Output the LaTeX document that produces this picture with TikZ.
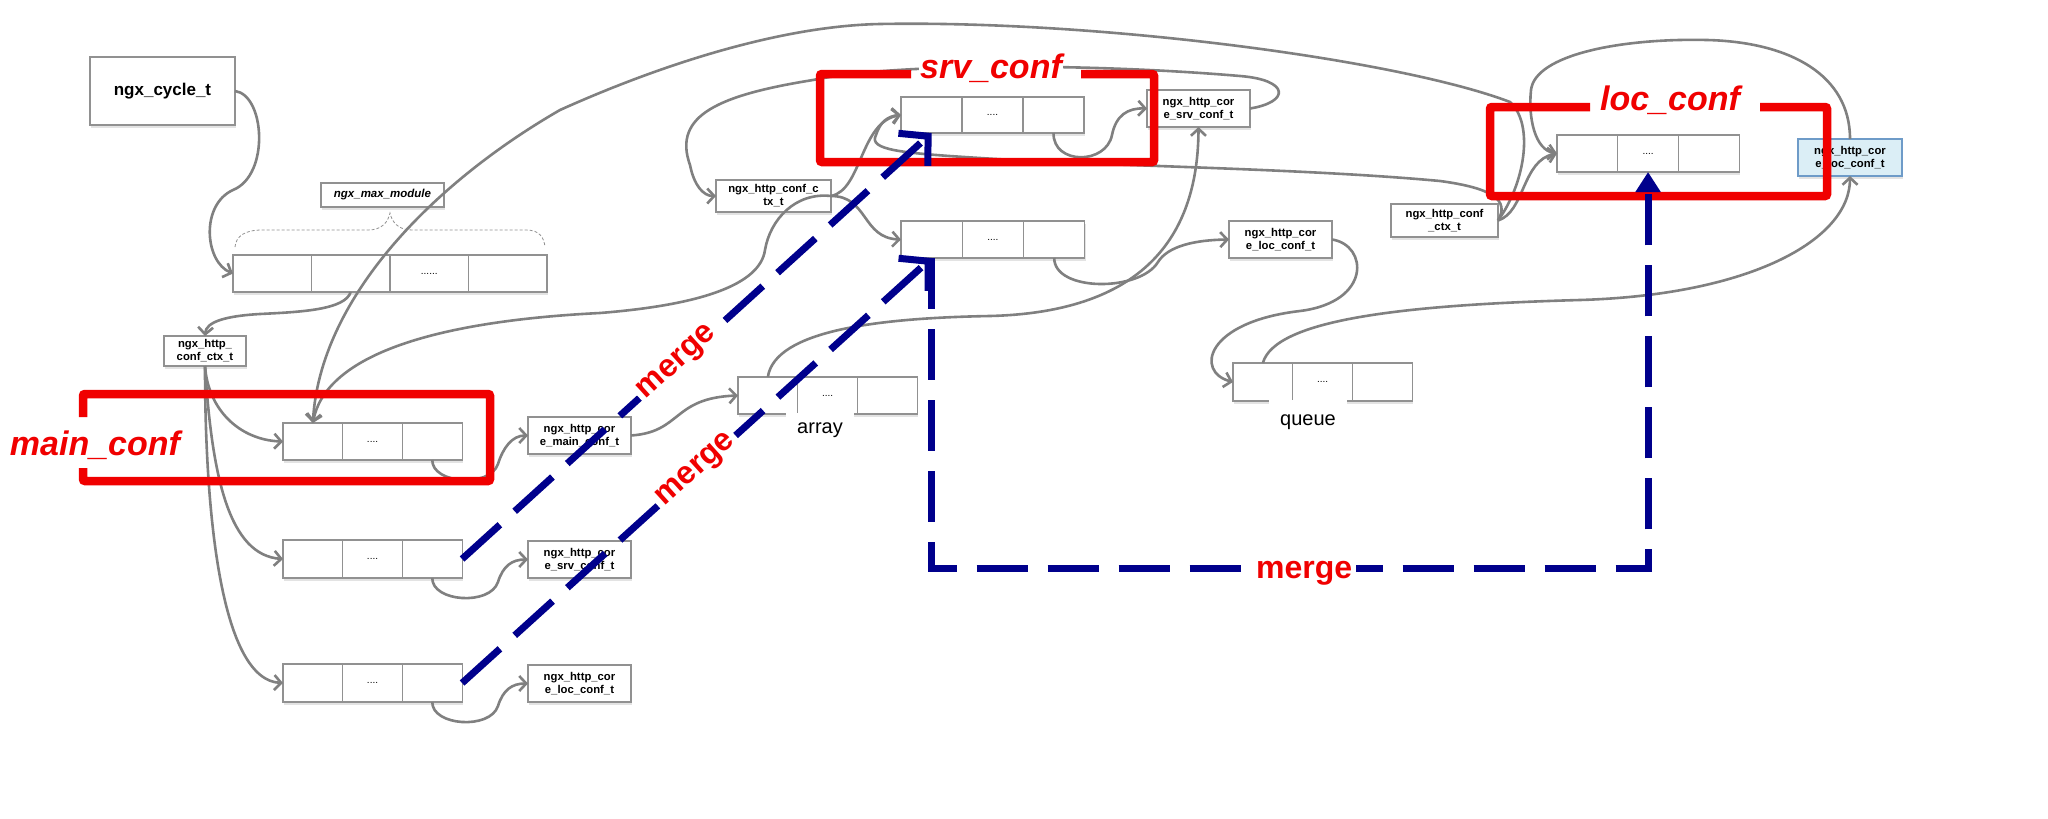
\documentclass[tikz,border=0pt]{standalone}
\usepackage{fontspec}
\setmainfont{Liberation Sans}
\usetikzlibrary{arrows.meta,shadows}
\definecolor{lgray}{RGB}{128,128,128}
\definecolor{bgray}{RGB}{145,145,145}
\definecolor{myred}{RGB}{240,0,0}
\definecolor{mynavy}{RGB}{0,0,140}
\definecolor{lblue}{RGB}{219,238,246}
\definecolor{bblue}{RGB}{110,155,200}
\tikzset{
 shad/.style={drop shadow={opacity=0.22,shadow xshift=1pt,shadow yshift=-2.5pt}},
 sbox/.style={draw=bgray,fill=white,line width=1.1pt,inner sep=1pt,outer sep=0pt,align=center,anchor=north west,shad,font=\bfseries\fontsize{11.3}{13}\selectfont},
 cell/.style={draw=bgray,fill=white,line width=1.1pt,inner sep=0pt,outer sep=0pt,anchor=north west,shad,font=\fontsize{10}{12}\selectfont},
 conn/.style={draw=lgray,line width=2.6pt,-{Straight Barb[length=7pt,width=15pt]}},
 redframe/.style={draw=myred,line width=8.5pt,rounded corners=2pt},
 redlabel/.style={text=myred,fill=white,inner sep=1pt,anchor=base,font=\bfseries\itshape\fontsize{34}{40}\selectfont},
 mergelabel/.style={text=myred,fill=white,inner sep=4pt,font=\bfseries\fontsize{32}{36}\selectfont},
 bluedash/.style={draw=mynavy,line width=7pt,dash pattern=on 51pt off 20pt},
 sublabel/.style={fill=white,inner xsep=11pt,inner ysep=0pt,anchor=base,font=\fontsize{20}{24}\selectfont},
}
\newcommand{\threecells}[6]{%
 \node[cell,minimum width=#4,minimum height=#5] (#1a) at (#2,#3) {};
 \node[cell,minimum width=#4,minimum height=#5] (#1b) at (#1a.north east) {#6};
 \node[cell,minimum width=#4,minimum height=#5] (#1c) at (#1b.north east) {};
}
\begin{document}
\begin{tikzpicture}[x=1pt,y=-1pt]
\useasboundingbox (0,0) rectangle (2048,819);
\fill[white] (0,0) rectangle (2048,819);

% ---------- boxes ----------
\node[sbox,minimum width=145pt,minimum height=68pt,font=\bfseries\fontsize{17}{20}\selectfont] (cycle) at (90,57) {ngx\_cycle\_t};
\node[sbox,minimum width=123pt,minimum height=24pt,font=\bfseries\itshape\fontsize{11.5}{13}\selectfont] (maxmod) at (321,183) {ngx\_max\_module};

\node[cell,minimum width=78.5pt,minimum height=37pt] (a4a) at (233,255) {};
\node[cell,minimum width=78.5pt,minimum height=37pt] (a4b) at (a4a.north east) {};
\node[cell,minimum width=78.5pt,minimum height=37pt] (a4c) at (a4b.north east) {......};
\node[cell,minimum width=78.5pt,minimum height=37pt] (a4d) at (a4c.north east) {};

\node[sbox,minimum width=82pt,minimum height=30pt] (ctxL) at (164,336) {ngx\_http\_\\conf\_ctx\_t};

\threecells{r1}{283}{423}{59.7pt}{37pt}{....}
\threecells{r2}{283}{540}{59.7pt}{38pt}{....}
\threecells{r3}{283}{664}{59.7pt}{38pt}{....}

\node[sbox,minimum width=103pt,minimum height=37pt] (mainL) at (528,417) {ngx\_http\_cor\\e\_main\_conf\_t};
\node[sbox,minimum width=103pt,minimum height=37pt] (srvL) at (528,541) {ngx\_http\_cor\\e\_srv\_conf\_t};
\node[sbox,minimum width=103pt,minimum height=37pt] (locL) at (528,665) {ngx\_http\_cor\\e\_loc\_conf\_t};

\threecells{arr}{738}{377}{59.7pt}{37pt}{....}
\node[sbox,minimum width=115pt,minimum height=32pt] (ctxM) at (716,180) {ngx\_http\_conf\_c\\tx\_t};
\threecells{srvA}{901}{97}{61pt}{36pt}{....}
\node[sbox,minimum width=103pt,minimum height=37pt] (srvM) at (1147,90) {ngx\_http\_cor\\e\_srv\_conf\_t};
\threecells{locA}{901}{221}{61.3pt}{37pt}{....}
\node[sbox,minimum width=103pt,minimum height=37pt] (locM) at (1229,221) {ngx\_http\_cor\\e\_loc\_conf\_t};
\threecells{que}{1233}{363}{59.7pt}{38pt}{....}
\node[sbox,minimum width=107pt,minimum height=33pt] (ctxR) at (1391,204) {ngx\_http\_conf\\\_ctx\_t};
\threecells{locR}{1557}{135}{60.7pt}{37pt}{....}
\node[sbox,minimum width=104pt,minimum height=37pt,fill=lblue,draw=bblue] (locB) at (1798,139) {ngx\_http\_cor\\e\_loc\_conf\_t};

% brace over the module array
\draw[bgray,line width=0.8pt,dash pattern=on 3pt off 2pt] (235,247) .. controls (236,236) and (245,230) .. (262,230) -- (368,230) .. controls (382,230) and (388,222) .. (390,213) .. controls (392,222) and (398,230) .. (412,230) -- (526,230) .. controls (540,230) and (544,238) .. (545,247);

% ---------- gray connectors ----------
\draw[conn] (cycle.east) .. controls (265,95) and (270,175) .. (233,190) .. controls (200,205) and (205,262) .. (a4a.west);
\draw[conn] (a4b.south) .. controls (345,310) and (300,312) .. (260,314) .. controls (225,316) and (206,322) .. (ctxL.north);
\draw[conn] (ctxL.south) .. controls (208,410) and (240,440) .. (r1a.west);
\draw[conn] (ctxL.south) .. controls (212,480) and (230,555) .. (r2a.west);
\draw[conn] (ctxL.south) .. controls (205,520) and (222,680) .. (r3a.west);
\draw[conn] (r1c.south) .. controls (432,484) and (490,488) .. (498,464) .. controls (503,448) and (512,435.5) .. (mainL.west);
\draw[conn] (r2c.south) .. controls (432,602) and (490,606) .. (498,582) .. controls (503,566) and (512,559.5) .. (srvL.west);
\draw[conn] (r3c.south) .. controls (432,726) and (490,730) .. (498,706) .. controls (503,690) and (512,683.5) .. (locL.west);
\draw[conn] (mainL.east) .. controls (682,432) and (672,398) .. (arra.west);
\draw[conn] (arra.north) .. controls (775,330) and (880,318) .. (990,316) .. controls (1150,312) and (1198,230) .. (srvM.south);
\draw[conn] (srvM.east) .. controls (1290,102) and (1290,80) .. (1240,76) .. controls (1100,64) and (900,62) .. (813,80) .. controls (720,95) and (672,115) .. (690,165) .. controls (694,185) and (703,196) .. (ctxM.west);
\draw[conn] (ctxM.east) .. controls (862,190) and (860,122) .. (srvAa.west);
\draw[conn] (ctxM.east) .. controls (868,196) and (862,238) .. (locAa.west);
\draw[conn] (ctxM.east) .. controls (795,192) and (770,220) .. (765,250) .. controls (760,285) and (700,305) .. (600,313) .. controls (420,322) and (325,360) .. (r1a.north);
\draw[conn] (srvAc.south) .. controls (1053,165) and (1106,165) .. (1112,135) .. controls (1116,115) and (1128,108) .. (srvM.west);
\draw[conn] (locAc.south) .. controls (1054,292) and (1140,292) .. (1158,262) .. controls (1168,246) and (1195,240) .. (locM.west);
\draw[conn] (locM.east) .. controls (1368,245) and (1372,302) .. (1300,311) .. controls (1205,322) and (1195,372) .. (quea.west);
\draw[conn] (quea.north) .. controls (1275,320) and (1400,305) .. (1580,300) .. controls (1750,295) and (1850,240) .. (locB.south);
\draw[conn] (ctxR.east) .. controls (1525,212) and (1522,160) .. (locRa.west);
\draw[conn] (locB.north) .. controls (1850,75) and (1790,42) .. (1707,40) .. controls (1620,38) and (1535,55) .. (1531,90) .. controls (1528,118) and (1535,150) .. (locRa.west);
\draw[conn] (ctxR.east) .. controls (1524,185) and (1535,125) .. (1510,102) .. controls (1400,60) and (1100,20) .. (880,24) .. controls (780,26) and (660,65) .. (560,110) .. controls (430,185) and (320,300) .. (r1a.north);
\draw[conn] (ctxR.east) .. controls (1510,200) and (1492,188) .. (1440,181) .. controls (1300,168) and (1100,166) .. (980,158) .. controls (900,153) and (868,150) .. (876,135) .. controls (880,122) and (888,116) .. (srvAa.west);

% labels under arrays
\node[sublabel,text height=20.5pt] (arrlab) at (820,433) {array};
\node[sublabel,text height=25pt] (quelab) at (1308,425) {queue};

% ---------- red frames ----------
\draw[redframe] (83,417) -- (83,394) -- (490,394) -- (490,481) -- (83,481) -- (83,468);
\node[redlabel] (mainlab) at (95,455) {main\_conf};
\draw[redframe] (911,74) -- (820,74) -- (820,162) -- (1154,162) -- (1154,74) -- (1081,74);
\node[redlabel] (srvlab) at (991,78) {srv\_conf};
\draw[redframe] (1590,107) -- (1490,107) -- (1490,196) -- (1827,196) -- (1827,107) -- (1760,107);
\node[redlabel] (loclab) at (1670,110) {loc\_conf};

% ---------- blue merge arrows ----------
\coordinate (mbot) at (0,568);
\draw[bluedash,-{Straight Barb[length=20pt,width=44pt]}] (r2c.east) -- node[mergelabel,sloped,pos=0.46] (m1) {merge} (srvAa.south);
\draw[bluedash,-{Straight Barb[length=20pt,width=44pt]}] (r3c.east) -- node[mergelabel,sloped,pos=0.5] (m2) {merge} (locAa.south);
\draw[bluedash,-{Triangle[length=20pt,width=24pt]}] (locAa.south) -- (locAa.south |- mbot) -- node[mergelabel,pos=0.52,anchor=base,yshift=-10pt] (m3) {merge} (locRb.south |- mbot) -- (locRb.south);
\end{tikzpicture}
\end{document}
